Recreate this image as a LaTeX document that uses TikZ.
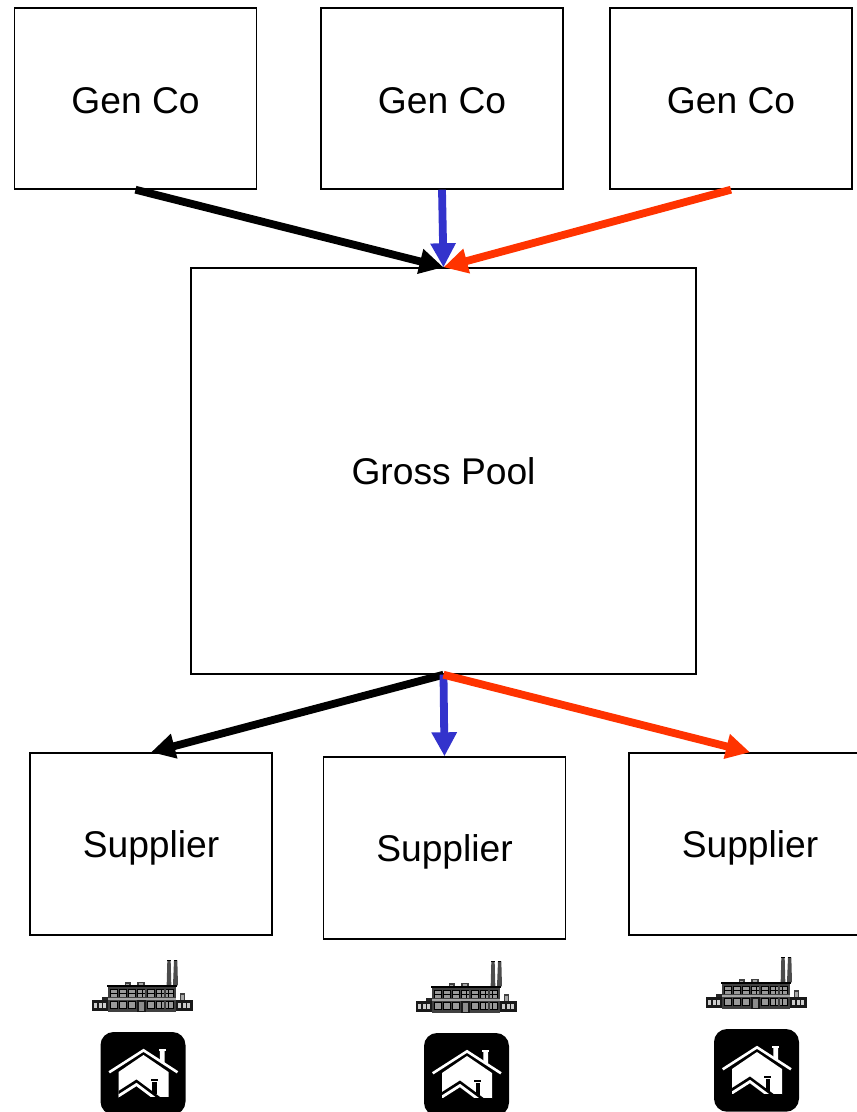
\documentclass[tikz,border=0pt]{standalone}
\usepackage{fontspec}
\setmainfont{Liberation Sans}
\usetikzlibrary{arrows.meta}
\definecolor{flowblue}{HTML}{3333CC}
\definecolor{floworange}{HTML}{FF3300}
\tikzset{
  box/.style={draw=black,line width=1.4pt,fill=white,inner sep=0pt,text height=27pt,text depth=0pt,font=\fontsize{37.2}{37.2}\selectfont},
  genbox/.style={box,minimum width=242pt,minimum height=181pt,text height=30pt},
  supbox/.style={box,minimum width=242pt,minimum height=182pt},
  flow/.style={line width=7.8pt,-{Triangle[length=24pt,width=24pt]}},
  factory/.pic={
    \begin{scope}[scale=1/3]
      % stacks
      \fill[black!70] (236,88) -- (238,13) -- (248,13) -- (250,88) -- cycle;
      \fill[black!70] (255,88) -- (258,13) -- (268,13) -- (270,88) -- cycle;
      \fill[black] (238,12) rectangle (248,16);
      \fill[black] (258,12) rectangle (268,16);
      % roof boxes
      \fill[black!75] (110,79) rectangle (128,89);
      \fill[black!35] (114,83) rectangle (124,87);
      \fill[black!75] (148,77) rectangle (170,89);
      \fill[black!35] (152,81) rectangle (166,87);
      % side wings
      \fill[black!85] (42,124) rectangle (60,136);
      \fill[black!75] (275,112) rectangle (292,136);
      \fill[black!35] (279,116) rectangle (288,134);
      \fill[black!90] (12,133) rectangle (60,165);
      \fill[black!90] (265,133) rectangle (316,165);
      \foreach \wx in {18,32,46}{\fill[black!20] (\wx,141) rectangle ++(9,16);}
      \foreach \wx in {270,284,298}{\fill[black!20] (\wx,141) rectangle ++(9,16);}
      % main block
      \fill[black!75] (60,92) rectangle (265,168);
      \fill[black] (57,87) rectangle (268,94);
      \fill[black!35] (60,126) rectangle (265,132);
      \foreach \wy in {100,135}{
        \foreach \wx in {66,93,120,148,177,205,233}{
          \fill[black] (\wx,\wy) rectangle ++(24,24);
          \foreach \px in {2,9,16}{\foreach \py in {2,13}{
            \fill[black!40] (\wx+\px,\wy+\py) rectangle ++(6,9);}}
        }
      }
      % door
      \fill[black!90] (148,132) rectangle (174,168);
      \fill[black!45] (153,137) rectangle (169,164);
    \end{scope}
  },
  houseicon/.pic={
    \fill[black,rounded corners=13pt] (0,0) rectangle (85,82.7);
    % body
    \fill[white] (18,40) -- (43,23) -- (68,40) -- (68,65.3) -- (18,65.3) -- cycle;
    % upper chimney
    \fill[white] (59.3,19) -- (64,19) -- (64,32) -- (59.3,29) -- cycle;
    \fill[white] (58.3,17) rectangle (65,18.6);
    % roof
    \draw[white,line width=2.6pt,line join=miter] (8.7,40.3) -- (43,18.3) -- (77,40.3);
    % inner house
    \begin{scope}
      \clip (18,40) rectangle (68,65.3);
      \fill[black] (18,59) -- (36,47.5) -- (60,65.3) -- (18,65.3) -- cycle;
      \fill[black] (51.5,50) rectangle (56,62);
      \fill[black] (50,47) rectangle (57,48.8);
      \draw[white,line width=2.8pt] (14,66.5) -- (36,52.5) -- (56,67.5);
    \end{scope}
    \draw[black,line width=0.8pt] (18,65.3) -- (68,65.3);
  }
}
\begin{document}
\begin{tikzpicture}[x=1pt,y=-1pt]
  \path[clip] (0,0) rectangle (857,1112);
  \node[genbox] (g1) at (135.5,98.5) {Gen Co};
  \node[genbox] (g2) at (442,98.5) {Gen Co};
  \node[genbox] (g3) at (731,98.5) {Gen Co};
  \node[box,minimum width=505pt,minimum height=406pt] (pool) at (443.5,471) {Gross Pool};
  \node[supbox] (s1) at (151,844) {Supplier};
  \node[supbox] (s2) at (444.5,848) {Supplier};
  \node[supbox] (s3) at (750,844) {Supplier};

  \draw[flow,black] (g1.south) -- (pool.north);
  \draw[flow,flowblue] (g2.south) -- (pool.north);
  \draw[flow,floworange] (g3.south) -- (pool.north);
  \draw[flow,black] (pool.south) -- (s1.north);
  \draw[flow,flowblue] (pool.south) -- (s2.north);
  \draw[flow,floworange] (pool.south) -- (s3.north);

  \pic at (88,956) {factory};
  \pic at (412,957) {factory};
  \pic at (702,953) {factory};
  \pic at (100.5,1032) {houseicon};
  \pic at (424,1033) {houseicon};
  \pic at (714,1029) {houseicon};
\end{tikzpicture}
\end{document}
